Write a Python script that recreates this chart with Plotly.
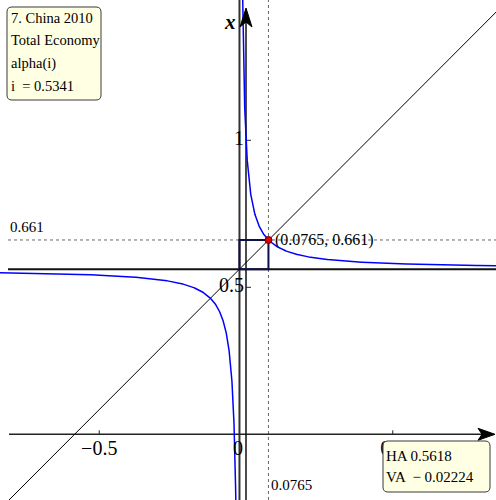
import numpy as np
import plotly.graph_objects as go

# Model parameters shown on the chart
HA = 0.5618          # horizontal asymptote
VA = -0.02224        # vertical asymptote
PT_I = 0.0765        # fixed point, i
PT_X = 0.661         # fixed point, x
I_VALUE = 0.5341

INFO_LINES = ["7. China 2010", "Total Economy", "alpha(i)", "i  = 0.5341"]
ASYM_LINES = ["HA 0.5618", "VA  \u2212 0.02224"]
X_TICKS = [-0.5, 0.0, 0.5]
X_TICK_TEXT = ["\u22120.5", "0", "0.5"]
Y_TICKS = [0.5, 1.0]
Y_TICK_TEXT = ["0.5", "1"]

W, H = 496, 500
X_RANGE = [-246 / 293.5, 250 / 293.5]
Y_RANGE = [(434.3 - 500) / 294, 434.3 / 294]
FONT = "Liberation Serif"


def data_x(px):
    return X_RANGE[0] + px / W * (X_RANGE[1] - X_RANGE[0])


def data_y(py):
    return Y_RANGE[1] - py / H * (Y_RANGE[1] - Y_RANGE[0])


def pap_x(px):
    return px / W


def pap_y(py):
    return 1 - py / H


# Rectangular hyperbola x = HA + k / (i - VA) through the fixed point
k = (PT_X - HA) * (PT_I - VA)
d_right = np.geomspace(k / (Y_RANGE[1] + 0.05 - HA), X_RANGE[1] - VA + 0.01, 800)
d_left = -np.geomspace(k / (HA - Y_RANGE[0] + 0.05), VA - X_RANGE[0] + 0.01, 800)
i_curve = np.concatenate([VA + d_left[::-1], [np.nan], VA + d_right])
x_curve = np.concatenate([HA + k / d_left[::-1], [np.nan], HA + k / d_right])

# 45-degree line through the centre of the hyperbola
diag_i = np.array([X_RANGE[0] - 0.05, X_RANGE[1] + 0.05])
diag_x = diag_i + (HA - VA)

fig = go.Figure()
fig.add_trace(go.Scatter(x=diag_i, y=diag_x, mode="lines",
                         line=dict(color="black", width=1), hoverinfo="skip"))
fig.add_trace(go.Scatter(x=i_curve, y=x_curve, mode="lines",
                         line=dict(color="#0000ff", width=1.5), hoverinfo="skip"))
fig.add_trace(go.Scatter(x=[PT_I], y=[PT_X], mode="markers",
                         marker=dict(color="#e00000", size=7,
                                     line=dict(color="#600000", width=1)),
                         hoverinfo="skip"))

# axis tick labels, drawn as text traces so the legend boxes can sit on top
tick_font = dict(family=FONT, size=20, color="black")
x_lab_pos = [t if t != 0 else data_x(238) for t in X_TICKS]
fig.add_trace(go.Scatter(x=x_lab_pos, y=[data_y(450)] * len(X_TICKS),
                         mode="text", text=X_TICK_TEXT,
                         textposition="middle center", textfont=tick_font,
                         hoverinfo="skip"))
fig.add_trace(go.Scatter(x=[data_x(244)] * len(Y_TICKS), y=Y_TICKS,
                         mode="text", text=Y_TICK_TEXT,
                         textposition="middle left", textfont=tick_font,
                         hoverinfo="skip"))

shapes = []
# dotted guides through the fixed point
shapes.append(dict(type="line", xref="x", yref="y", layer="below",
                   x0=data_x(8), x1=X_RANGE[1], y0=PT_X, y1=PT_X,
                   line=dict(color="#666666", width=1, dash="dot")))
shapes.append(dict(type="line", xref="x", yref="y", layer="below",
                   x0=PT_I, x1=PT_I, y0=Y_RANGE[0], y1=Y_RANGE[1],
                   line=dict(color="#666666", width=1, dash="dot")))
# asymptotes
shapes.append(dict(type="line", xref="x", yref="y", layer="below",
                   x0=data_x(8), x1=X_RANGE[1], y0=HA, y1=HA,
                   line=dict(color="#111111", width=2)))
shapes.append(dict(type="line", xref="x", yref="y", layer="below",
                   x0=VA, x1=VA, y0=Y_RANGE[0], y1=Y_RANGE[1],
                   line=dict(color="#333333", width=2)))
# axes
shapes.append(dict(type="line", xref="x", yref="y", layer="below",
                   x0=data_x(9), x1=data_x(484), y0=0, y1=0,
                   line=dict(color="#222222", width=1.5)))
shapes.append(dict(type="line", xref="x", yref="y", layer="below",
                   x0=0, x1=0, y0=Y_RANGE[0], y1=data_y(20),
                   line=dict(color="#111111", width=1.5)))
# box between the asymptotes' crossing and the fixed point
shapes.append(dict(type="rect", xref="x", yref="y", layer="below",
                   x0=VA, x1=PT_I, y0=HA, y1=PT_X,
                   line=dict(color="#101048", width=2)))
# tick marks
for t in X_TICKS:
    if t != 0:
        shapes.append(dict(type="line", xref="x", yref="y", layer="below",
                           x0=t, x1=t, y0=0, y1=data_y(434.3 - 4),
                           line=dict(color="#222222", width=1)))
for t in Y_TICKS:
    shapes.append(dict(type="line", xref="x", yref="y", layer="below",
                       x0=0, x1=data_x(246 + 5), y0=t, y1=t,
                       line=dict(color="#222222", width=1)))

# arrow heads (notched)
up = [(246, 8), (252, 27), (246, 22), (240, 27)]
right = [(495, 434.3), (478, 428.3), (482, 434.3), (478, 440.3)]
for pts in (up, right):
    path = "M " + " L ".join(f"{data_x(a):.5f},{data_y(b):.5f}" for a, b in pts) + " Z"
    shapes.append(dict(type="path", xref="x", yref="y", path=path,
                       fillcolor="black", line=dict(color="black", width=1)))


def rounded_box(x0, y0, x1, y1, r=5):
    p = [
        f"M {pap_x(x0 + r)},{pap_y(y0)}",
        f"L {pap_x(x1 - r)},{pap_y(y0)}",
        f"Q {pap_x(x1)},{pap_y(y0)} {pap_x(x1)},{pap_y(y0 + r)}",
        f"L {pap_x(x1)},{pap_y(y1 - r)}",
        f"Q {pap_x(x1)},{pap_y(y1)} {pap_x(x1 - r)},{pap_y(y1)}",
        f"L {pap_x(x0 + r)},{pap_y(y1)}",
        f"Q {pap_x(x0)},{pap_y(y1)} {pap_x(x0)},{pap_y(y1 - r)}",
        f"L {pap_x(x0)},{pap_y(y0 + r)}",
        f"Q {pap_x(x0)},{pap_y(y0)} {pap_x(x0 + r)},{pap_y(y0)} Z",
    ]
    return dict(type="path", xref="paper", yref="paper", path=" ".join(p),
                fillcolor="#ffffe3", line=dict(color="#3a3a3a", width=1),
                layer="above")


shapes.append(rounded_box(7, 7, 101, 100))
shapes.append(rounded_box(383, 441, 490, 492))

annotations = []


def text(px, py, s, size=15, xanchor="left", **kw):
    annotations.append(dict(x=pap_x(px), y=pap_y(py), xref="paper", yref="paper",
                            text=s, showarrow=False, xanchor=xanchor,
                            yanchor="middle",
                            font=dict(family=FONT, size=size, color="black"),
                            **kw))


for n, line in enumerate(INFO_LINES):
    text(9, 18 + n * 22.5, line, size=14.5)
for n, line in enumerate(ASYM_LINES):
    text(384, 456 + n * 21, line, size=15)

# axis title
annotations.append(dict(x=pap_x(230), y=pap_y(22), xref="paper", yref="paper",
                        text="<b><i>x</i></b>", showarrow=False, xanchor="center",
                        yanchor="middle",
                        font=dict(family=FONT, size=21, color="black")))

# fixed-point labels
annotations.append(dict(x=data_x(8), y=PT_X, xref="x", yref="y", text=f"{PT_X:g}",
                        showarrow=False, xanchor="left", yanchor="middle", yshift=13,
                        font=dict(family=FONT, size=15, color="black")))
annotations.append(dict(x=PT_I, y=data_y(485), xref="x", yref="y", text=f"{PT_I:g}",
                        showarrow=False, xanchor="left", yanchor="middle", xshift=1,
                        font=dict(family=FONT, size=15, color="black")))
annotations.append(dict(x=PT_I, y=PT_X, xref="x", yref="y",
                        text=f"({PT_I:g}, {PT_X:g})", showarrow=False,
                        xanchor="left", yanchor="middle", xshift=5,
                        font=dict(family=FONT, size=16, color="black")))

fig.update_layout(
    width=W, height=H,
    margin=dict(l=0, r=0, t=0, b=0),
    paper_bgcolor="white", plot_bgcolor="white",
    showlegend=False,
    xaxis=dict(range=X_RANGE, visible=False, fixedrange=True),
    yaxis=dict(range=Y_RANGE, visible=False, fixedrange=True),
    shapes=shapes,
    annotations=annotations,
)

fig.write_html("out.html")
